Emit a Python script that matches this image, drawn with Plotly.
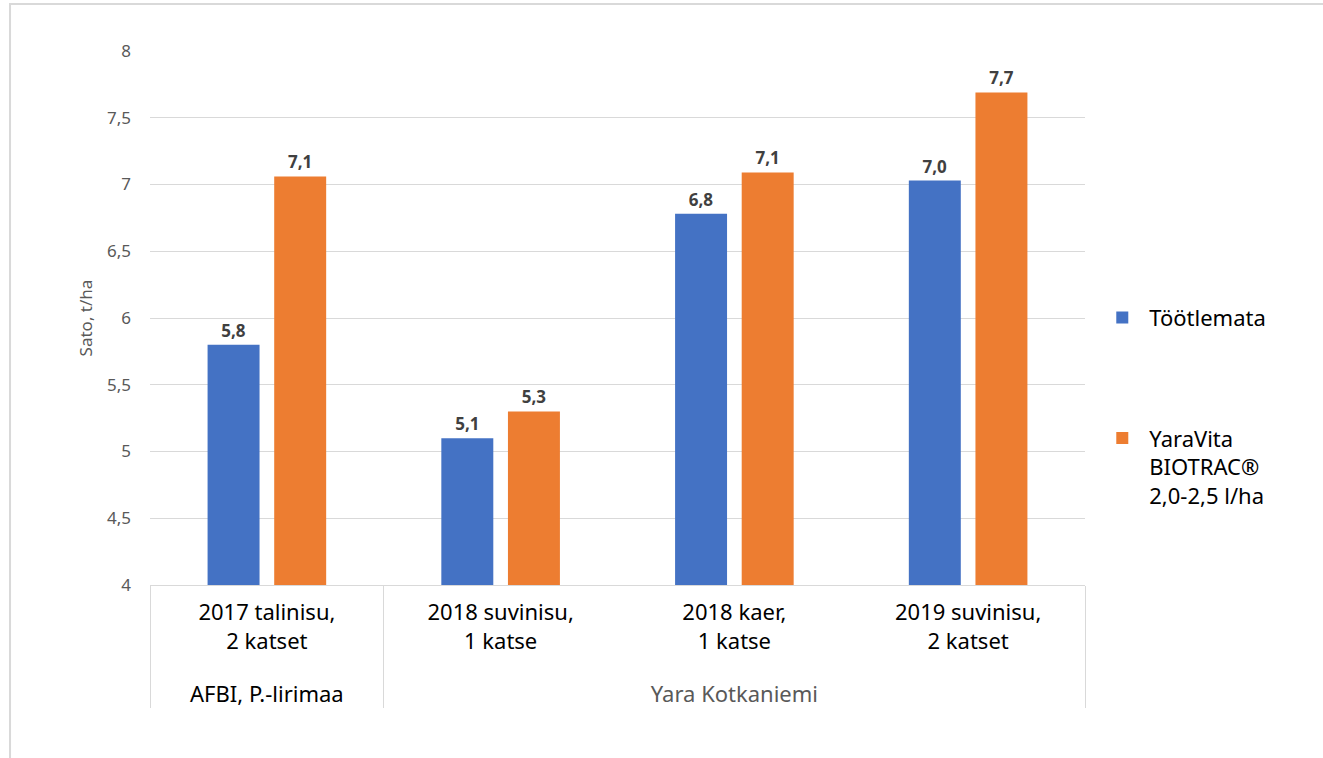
import plotly.graph_objects as go

groups = ["<br>AFBI, P.-lirimaa", "<br><span style='color:#595959'>Yara Kotkaniemi</span>",
          "<br><span style='color:#595959'>Yara Kotkaniemi</span>", "<br><span style='color:#595959'>Yara Kotkaniemi</span>"]
categories = ["2017 talinisu,<br>2 katset", "2018 suvinisu,<br>1 katse",
              "2018 kaer,<br>1 katse", "2019 suvinisu,<br>2 katset"]
untreated = [5.80, 5.10, 6.78, 7.03]
treated = [7.06, 5.30, 7.09, 7.69]
series_names = ["Töötlemata", "YaraVita<br>BIOTRAC®<br>2,0-2,5 l/ha"]
colors = ["#4472C4", "#ED7D31"]

def fmt(v):
    return f"{v:.1f}".replace(".", ",")

FONT = "Noto Sans"
fig = go.Figure()
for i, (name, vals) in enumerate(zip(series_names, [untreated, treated])):
    fig.add_trace(go.Bar(
        x=[groups, categories], y=vals, name=name,
        marker=dict(color=colors[i], line=dict(width=0)),
        text=[fmt(v) for v in vals], textposition="outside",
        textfont=dict(family=FONT, size=17, color="#404040", weight="bold"),
        cliponaxis=False, legendgroup=f"g{i}",
    ))

fig.update_layout(
    width=1323, height=758,
    margin=dict(l=150, r=238, t=51, b=173),
    paper_bgcolor="white", plot_bgcolor="white",
    barmode="group", bargap=0.43, bargroupgap=0.22,
    separators=", ",
    font=dict(family=FONT, color="#000000"),
    legend=dict(x=1.011, y=0.54, xanchor="left", yanchor="top",
                font=dict(family=FONT, size=22, color="#000000"),
                tracegroupgap=89, valign="top", itemwidth=44),
    showlegend=True,
)
fig.update_yaxes(range=[4, 8], dtick=0.5, showgrid=True, gridcolor="#d9d9d9", gridwidth=1,
                 zeroline=False, showline=False,
                 tickfont=dict(family=FONT, size=17, color="#595959"),
                 title=dict(text="Sato, t/ha", font=dict(family=FONT, size=17, color="#595959"), standoff=10),
                 ticks="", ticklabelstandoff=18)
fig.update_xaxes(type="multicategory", showline=True, linecolor="#d9d9d9", linewidth=1,
                 showdividers=True, dividercolor="#d9d9d9", dividerwidth=1,
                 tickfont=dict(family=FONT, size=22, color="#000000"), ticks="",
                 ticklabelstandoff=8)

fig.add_shape(type="rect", xref="paper", yref="paper",
              x0=-0.1497, x1=1.4, y0=-0.5, y1=1.088,
              line=dict(color="#d9d9d9", width=2), layer="below")

fig.write_html("out.html", config={"displayModeBar": False},
               post_script="document.body.style.margin='0';")
